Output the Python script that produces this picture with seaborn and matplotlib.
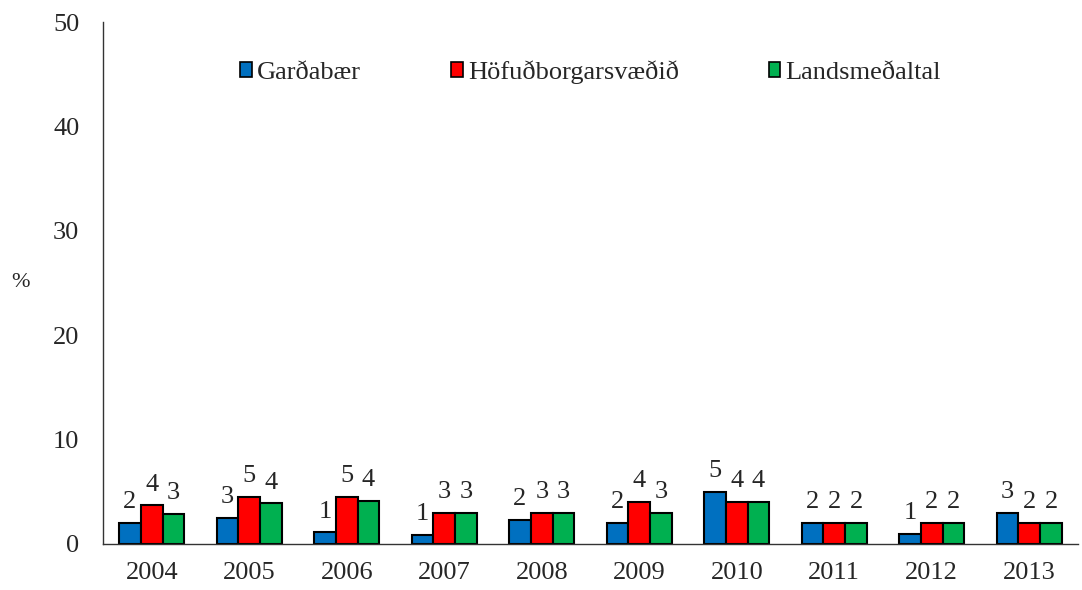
import pandas as pd
import numpy as np
import matplotlib.pyplot as plt
import seaborn as sns
from matplotlib.patches import Patch

# values (%)
years = ['2004', '2005', '2006', '2007', '2008', '2009', '2010', '2011', '2012', '2013']
gardabaer = [2.0, 2.5, 1.1, 0.9, 2.3, 2.0, 5.0, 2.0, 1.0, 3.0]
hofudborg = [3.7, 4.5, 4.5, 3.0, 3.0, 4.0, 4.0, 2.0, 2.0, 2.0]
landsmedaltal = [2.9, 3.9, 4.1, 3.0, 3.0, 3.0, 4.0, 2.0, 2.0, 2.0]
series_names = ['Garðabær', 'Höfuðborgarsvæðið', 'Landsmeðaltal']
colors = ['#0070C0', '#FF0000', '#00B050']

df = pd.DataFrame({'year': years * 3,
                   'value': gardabaer + hofudborg + landsmedaltal,
                   'series': np.repeat(series_names, len(years))})

sns.set_style('white')
plt.rcParams['font.family'] = ['Liberation Serif', 'DejaVu Serif']

fig = plt.figure(figsize=(10.82, 5.9), dpi=100)
ax = fig.add_axes([0.0952, 0.078, 0.9011, 0.8847])

sns.barplot(data=df, x='year', y='value', hue='series', hue_order=series_names,
            palette=colors, saturation=1, width=0.67, edgecolor='black',
            linewidth=1.5, legend=False, ax=ax)

# rounded value labels above bars
for cont in ax.containers:
    labels = [str(int(b.get_height() + 0.5)) for b in cont]
    ax.bar_label(cont, labels=labels, padding=7, fontsize=19)

ax.set_ylim(0, 50)
ax.set_xlim(-0.5, len(years) - 0.5)
ax.set_yticks(range(0, 51, 10))
ax.set_xticks(np.arange(0.5, len(years) - 1, 1))
ax.set_xticklabels([])
ax.set_xticks(range(len(years)), minor=True)
ax.set_xticklabels(years, minor=True)
ax.tick_params(axis='x', which='major', direction='out', length=6, width=1, color='#555555')
ax.tick_params(axis='x', which='minor', length=0, labelsize=19, pad=13)
ax.tick_params(axis='y', direction='out', length=6, width=1, color='#555555',
               labelsize=19, pad=11)
ax.set_xlabel('')
ax.set_ylabel('%', rotation=0, fontsize=16, va='center', ha='center')
ax.yaxis.set_label_coords(-0.085, 0.5)

for s in ['top', 'right']:
    ax.spines[s].set_visible(False)
for s in ['left', 'bottom']:
    ax.spines[s].set_color('#333333')
    ax.spines[s].set_linewidth(1)

handles = [Patch(facecolor=c, edgecolor='black', linewidth=1.2) for c in colors]
ax.legend(handles, series_names, loc='center', bbox_to_anchor=(0.5, 0.904), ncol=3,
          frameon=False, fontsize=19, handlelength=0.45, handleheight=0.5,
          handletextpad=0.2, columnspacing=3.4)

plt.savefig('out.png', dpi=100)
plt.close()
